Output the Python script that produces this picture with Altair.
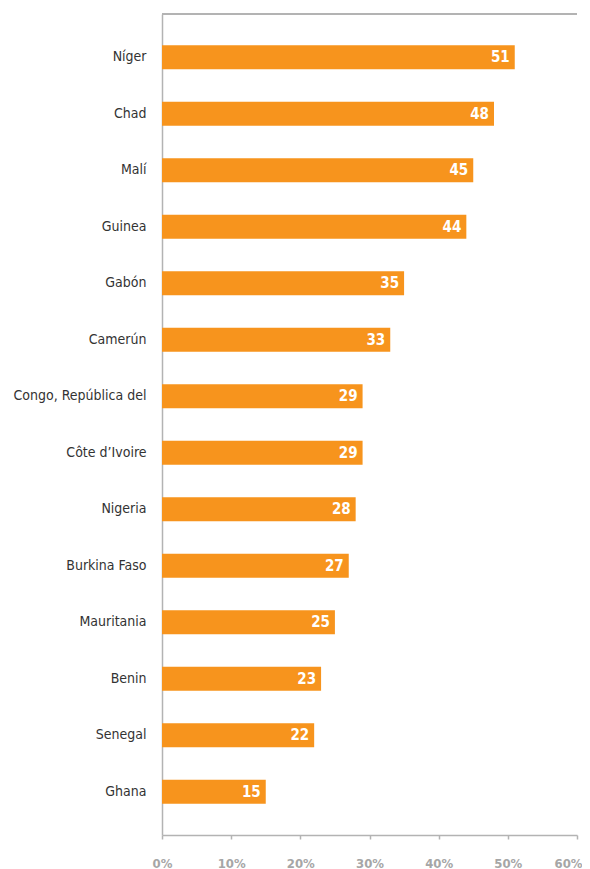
import altair as alt
import pandas as pd

countries = ["Níger", "Chad", "Malí", "Guinea", "Gabón", "Camerún",
             "Congo, República del", "Côte d’Ivoire", "Nigeria", "Burkina Faso",
             "Mauritania", "Benin", "Senegal", "Ghana"]
values = [51, 48, 45, 44, 35, 33, 29, 29, 28, 27, 25, 23, 22, 15]
ticks = [0, 10, 20, 30, 40, 50, 60]

df = pd.DataFrame({"country": countries, "value": values})

FONT = "DejaVu Sans Condensed, Roboto, sans-serif"
GREY = "#B3B3B3"
ORANGE = "#F7941D"

y_enc = alt.Y("country:N", sort=countries, title=None,
              scale=alt.Scale(paddingInner=0.575, paddingOuter=0.553),
              axis=alt.Axis(ticks=False, labelFontSize=14, labelColor="#333333",
                            labelPadding=16, domainColor=GREY, domainWidth=1.5,
                            labelFont=FONT))
x_enc = alt.X("value:Q", title=None,
              scale=alt.Scale(domain=[0, 60], nice=False),
              axis=alt.Axis(values=ticks, labelExpr="datum.value + '%'",
                            grid=False, tickSize=4, tickColor=GREY, tickWidth=1.5,
                            domainColor=GREY, domainWidth=1.5,
                            labelFlush=False,
                            labelAlign={"expr": "datum.value == 60 ? 'right' : 'center'"},
                            labelOffset={"expr": "datum.value == 60 ? 5 : 0"},
                            labelColor="#A6A6A6", labelFontWeight="bold",
                            labelFontSize=13, labelPadding=18, labelFont=FONT))

bars = alt.Chart(df).mark_bar(color=ORANGE).encode(x=x_enc, y=y_enc)
labels = alt.Chart(df).mark_text(align="right", baseline="middle", dx=-5,
                                 color="white", fontWeight="bold", fontSize=15,
                                 font=FONT).encode(
    x="value:Q", y=alt.Y("country:N", sort=countries), text="value:Q")
top = alt.Chart(df).mark_rule(color=GREY, strokeWidth=1.5).encode(
    x=alt.value(0), x2=alt.value(415), y=alt.value(0))

chart = alt.layer(bars, labels, top).properties(
    width=415, height=821,
    autosize=alt.AutoSizeParams(type="none"),
    padding={"left": 154, "top": 6, "right": 5, "bottom": 35},
).configure_view(stroke=None)

chart.save("out.html", embed_options={"renderer": "svg", "actions": False})
